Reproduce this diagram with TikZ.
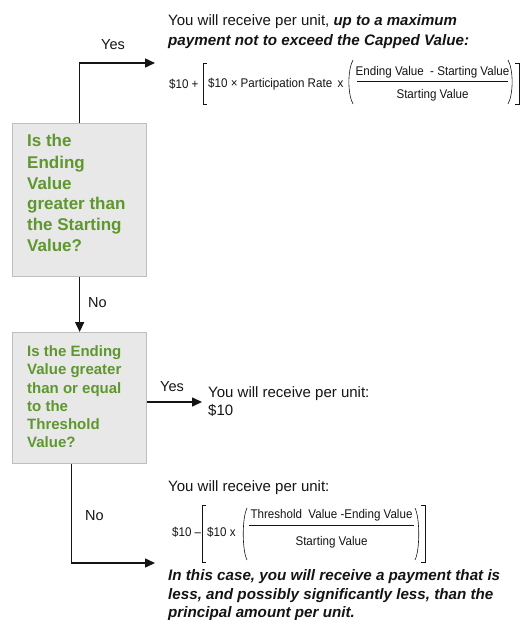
\documentclass[tikz,border=0pt]{standalone}
\usepackage{fontspec}
\setmainfont{Liberation Sans}
\newfontfamily\narrowsans[FakeStretch=0.92]{Liberation Sans}
\usetikzlibrary{arrows.meta}
\definecolor{qgreen}{RGB}{94,151,45}
\definecolor{boxfill}{RGB}{232,232,232}
\definecolor{boxborder}{RGB}{190,190,190}
\definecolor{inkc}{RGB}{20,20,20}
\tikzset{
  box/.style={draw=boxborder, fill=boxfill, line width=1.3pt, inner sep=0pt, anchor=north west},
  qbig/.style={text=qgreen, font=\fontsize{17}{21}\selectfont\bfseries, anchor=base west, inner sep=0pt},
  qsmall/.style={text=qgreen, font=\fontsize{15}{18}\selectfont\bfseries, anchor=base west, inner sep=0pt},
  lbl/.style={text=inkc, font=\fontsize{14.5}{17}\selectfont, inner sep=0pt},
  body/.style={text=inkc, font=\fontsize{15}{18}\selectfont, anchor=base west, inner sep=0pt},
  bodybi/.style={text=inkc, font=\fontsize{15.2}{18}\selectfont\bfseries\itshape, anchor=base west, inner sep=0pt},
  ftext/.style={text=inkc, font=\narrowsans\fontsize{12.6}{14}\selectfont, inner sep=0pt},
  brk/.style={draw=inkc, line width=0.6pt},
  conn/.style={draw=inkc, line width=1.5pt, -{Triangle[length=10pt,width=9pt]}}
}
\begin{document}
\begin{tikzpicture}[x=1pt,y=-1pt]
\useasboundingbox (0,0) rectangle (521,620);

% decision boxes
\node[box, minimum width=134pt, minimum height=153pt] (box1) at (12,123) {};
\node[box, minimum width=134pt, minimum height=131pt] (box2) at (12,332) {};

% box 1 text
\node[qbig] (q1a) at (27,147) {Is the};
\node[qbig] (q1b) at (27,168.3) {Ending};
\node[qbig] (q1c) at (27,189.3) {Value};
\node[qbig] (q1d) at (27,209.7) {greater than};
\node[qbig] (q1e) at (27,230.3) {the Starting};
\node[qbig] (q1f) at (27,251.7) {Value?};

% box 2 text
\node[qsmall] (q2a) at (27,356.4) {Is the Ending};
\node[qsmall] (q2b) at (27,374.7) {Value greater};
\node[qsmall] (q2c) at (27,393) {than or equal};
\node[qsmall] (q2d) at (27,411.3) {to the};
\node[qsmall] (q2e) at (27,429.6) {Threshold};
\node[qsmall] (q2f) at (27,447.9) {Value?};

% connectors
\coordinate (t1) at (155,63);
\draw[conn] (box1.north) |- (t1);
\node[lbl] (yes1) at (113,45) {Yes};

\draw[conn] (box1.south) -- (box2.north);
\node[lbl, anchor=west] (no1) at (88,303) {No};

\coordinate (t2) at (202,402);
\draw[conn] (box2.east |- t2) -- (t2);
\node[lbl] (yes2) at (172,387) {Yes};

\coordinate (t3) at (155,563);
\draw[conn] ([xshift=-8pt]box2.south) |- (t3);
\node[lbl, anchor=west] (no2) at (85,516) {No};

% top outcome text
\node[body] (top1) at (168,26) {You will receive per unit, \textbf{\textit{up to a maximum}}};
\node[bodybi] (top2) at (168,46) {payment not to exceed the Capped Value:};

% formula 1
\node[ftext, anchor=west] (f1a) at (169,84) {\$10 +};
\draw[brk] (207,63) -- (203,63) -- (203,104) -- (207,104);
\node[ftext, anchor=west] (f1b) at (208,84) {\$10 × Participation Rate\, x};
\draw[brk] (353,60) .. controls (347.5,70) and (347.5,94) .. (353,104);
\node[ftext] (f1num) at (432.5,72) {Ending Value\ \ - Starting Value};
\draw[brk] (357,81) -- (508,81);
\node[ftext] (f1den) at (432.5,95) {Starting Value};
\draw[brk] (508,60) .. controls (513.5,70) and (513.5,94) .. (508,104);
\draw[brk] (515,63) -- (519,63) -- (519,104) -- (515,104);

% middle outcome
\node[body] (mid1) at (208,397.5) {You will receive per unit:};
\node[body] (mid2) at (208,415.5) {\$10};

% bottom outcome
\node[body] (bot1) at (168,491) {You will receive per unit:};
\node[ftext, anchor=west] (f2a) at (172,532) {\$10 –};
\draw[brk] (206,505) -- (202,505) -- (202,562) -- (206,562);
\node[ftext, anchor=west] (f2b) at (207,532) {\$10 x};
\draw[brk] (247,508) .. controls (242,518) and (242,550) .. (247,560);
\node[ftext] (f2num) at (331.5,515) {Threshold\ \ Value -Ending Value};
\draw[brk] (249,525) -- (414,525);
\node[ftext] (f2den) at (331.5,542) {Starting Value};
\draw[brk] (415,508) .. controls (420,518) and (420,550) .. (415,560);
\draw[brk] (421,505) -- (425,505) -- (425,562) -- (421,562);

\node[bodybi] (bot2) at (168,580.5) {In this case, you will receive a payment that is};
\node[bodybi] (bot3) at (168,599) {less, and possibly significantly less, than the};
\node[bodybi] (bot4) at (168,617) {principal amount per unit.};
\end{tikzpicture}
\end{document}
